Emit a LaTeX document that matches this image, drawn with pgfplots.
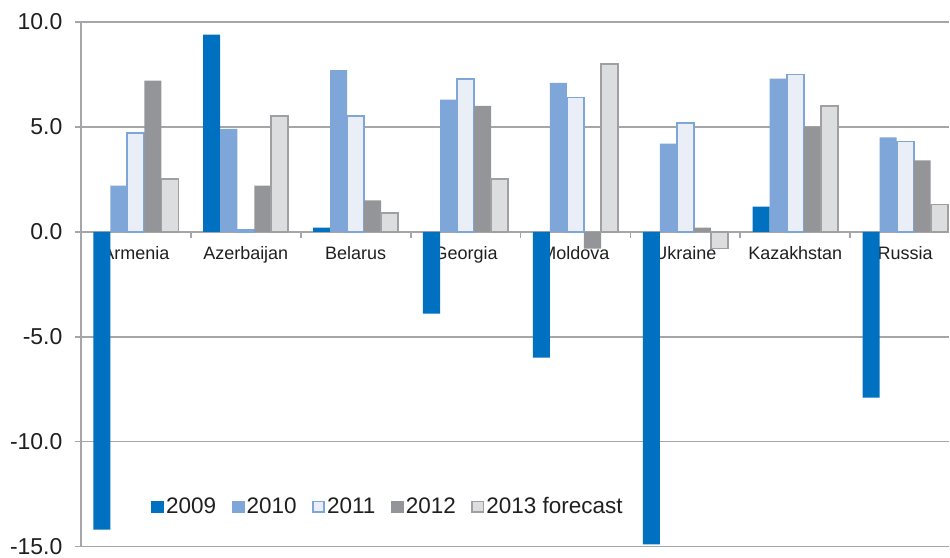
\documentclass[border=0pt]{standalone}
\usepackage{pgfplots}
\usepackage{pgfplotstable}
\pgfplotsset{compat=1.18}
\usepackage{fontspec}
\setmainfont{Liberation Sans}
\definecolor{cA}{RGB}{0,112,192}
\definecolor{cB}{RGB}{126,166,216}
\definecolor{cC}{RGB}{233,238,247}
\definecolor{cD}{RGB}{147,149,152}
\definecolor{cE}{RGB}{220,221,223}
\definecolor{cEb}{RGB}{160,160,163}
\definecolor{gridc}{RGB}{166,166,170}
\pgfplotsset{
  layers/mylayers/.define layer set={axis background,axis grid,axis ticks,axis lines,main,axis tick labels,axis descriptions,axis foreground}{},
}
\pgfplotstableread{
idx y2009 y2010 y2011 y2012 y2013
0 -14.2 2.2 4.7 7.2 2.5
1 9.4 4.9 0.1 2.2 5.5
2 0.2 7.7 5.5 1.5 0.9
3 -3.9 6.3 7.3 6.0 2.5
4 -6.0 7.1 6.4 -0.8 8.0
5 -14.9 4.2 5.2 0.2 -0.8
6 1.2 7.3 7.5 5.0 6.0
7 -7.9 4.5 4.3 3.4 1.3
}\data
\begin{document}
\begin{tikzpicture}
\begin{axis}[
  set layers=mylayers,
  scale only axis,
  width=869pt, height=525pt,
  xmin=-0.5, xmax=7.4,
  ymin=-15, ymax=10,
  axis y line*=left,
  axis x line*=middle,
  axis line style={draw=gridc, line width=1.8pt},
  ytick={-15,-10,...,10},
  ymajorgrids,
  grid style={draw=gridc, line width=1.8pt},
  /pgf/number format/fixed,
  /pgf/number format/fixed zerofill,
  /pgf/number format/precision=1,
  /pgf/number format/assume math mode=true,
  y tick label style={font=\fontsize{23}{26}\selectfont, text=black!88, xshift=-9pt},
  ytick style={draw=gridc, line width=1.8pt},
  ytick align=outside,
  major tick length=6pt,
  xtick={0,...,7},
  xticklabels={Armenia,Azerbaijan,Belarus,Georgia,Moldova,Ukraine,Kazakhstan,Russia},
  x tick label style={font=\fontsize{18}{22}\selectfont, text=black!88, inner sep=0pt, anchor=north, yshift=-15pt},
  xtick style={draw=none},
  extra x ticks={0.5,1.5,...,6.5},
  extra x tick labels={},
  extra x tick style={xtick style={draw=gridc, line width=1.8pt}, tick align=outside, major tick length=6pt, grid=none},
  bar width=0.155,
  legend style={draw=none, fill=none, inner sep=0pt, font=\fontsize{22.5}{26}\selectfont,
    at={(axis description cs:0.0806,0.0762)}, anchor=west, legend columns=5,
    /tikz/every even column/.append style={column sep=13.5pt},
    nodes={inner sep=2pt, text=black!88}},
  clip=false,
]
\addplot[ybar, bar shift=-0.31, fill=cA, draw=none,
  legend image code/.code={\fill[cA] (0pt,-6pt) rectangle (13pt,6pt);}] table[x=idx, y=y2009] {\data};
\addlegendentry{2009}
\addplot[ybar, bar shift=-0.155, fill=cB, draw=none,
  legend image code/.code={\fill[cB] (0pt,-6pt) rectangle (13pt,6pt);}] table[x=idx, y=y2010] {\data};
\addlegendentry{2010}
\addplot[ybar, bar shift=0, fill=cC, draw=cB, line width=1.8pt,
  legend image code/.code={\filldraw[fill=cC, draw=cB, line width=1.8pt] (0.9pt,-5.1pt) rectangle (12.1pt,5.1pt);}] table[x=idx, y=y2011] {\data};
\addlegendentry{2011}
\addplot[ybar, bar shift=0.155, fill=cD, draw=none,
  legend image code/.code={\fill[cD] (0pt,-6pt) rectangle (13pt,6pt);}] table[x=idx, y=y2012] {\data};
\addlegendentry{2012}
\addplot[ybar, bar shift=0.31, fill=cE, draw=cEb, line width=1.8pt,
  legend image code/.code={\filldraw[fill=cE, draw=cEb, line width=1.8pt] (0.9pt,-5.1pt) rectangle (12.1pt,5.1pt);}] table[x=idx, y=y2013] {\data};
\addlegendentry{2013 forecast}
\end{axis}
\useasboundingbox (-81pt,-9pt) rectangle (869pt,547pt);
\end{tikzpicture}
\end{document}
